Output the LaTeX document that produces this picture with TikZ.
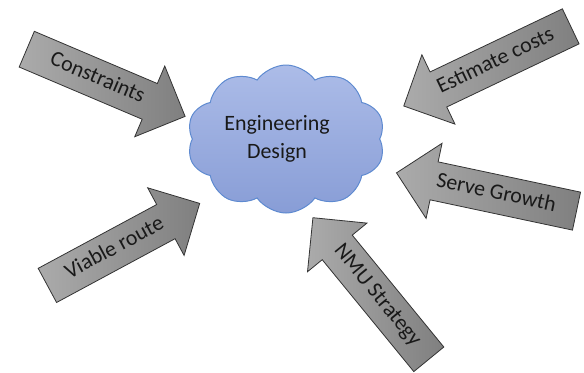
\documentclass[tikz,border=0pt]{standalone}
\usepackage{fontspec}
\setmainfont{Carlito}
\usetikzlibrary{shapes.arrows, shapes.symbols}

\definecolor{cloudtop}{RGB}{172,188,232}
\definecolor{cloudbot}{RGB}{136,157,214}
\definecolor{cloudline}{RGB}{94,138,208}

\begin{document}
\begin{tikzpicture}[x=1bp, y=-1bp,
    inarrow/.style={single arrow, draw=black!80, line width=0.8bp,
        left color=black!33, right color=black!50, text=black!90,
        font=\fontsize{22}{26}\selectfont,
        text height=15bp, text depth=5bp, inner xsep=0bp, inner ysep=9bp,
        single arrow head extend=19bp},
    back/.style={shape border rotate=180}]
    \useasboundingbox (0,0) rectangle (584,372);

    \node[cloud, cloud puffs=10, cloud puff arc=110, aspect=1.35,
        minimum width=198bp, minimum height=148bp, line width=1bp,
        draw=cloudline, top color=cloudtop, bottom color=cloudbot] (cloud) at (286,139) {};
    \node[align=center, text=black!90, font=\fontsize{22}{28}\selectfont] (design) at (277,139) {Engineering\\Design};

    \node[inarrow, minimum height=172bp, rotate=-23] (constraints) at (97,79) {Constraints};
    \node[inarrow, back, minimum height=185bp, rotate=25.5] (costs) at (496,62) {Estimate costs};
    \node[inarrow, back, minimum height=184bp, rotate=-12] (growth) at (496,194) {Serve Growth};
    \node[inarrow, back, minimum height=183bp, rotate=-50.7] (nmu) at (377,296) {NMU Strategy};
    \node[inarrow, minimum height=173bp, rotate=28.3] (route) at (115,249) {Viable route};
\end{tikzpicture}
\end{document}
